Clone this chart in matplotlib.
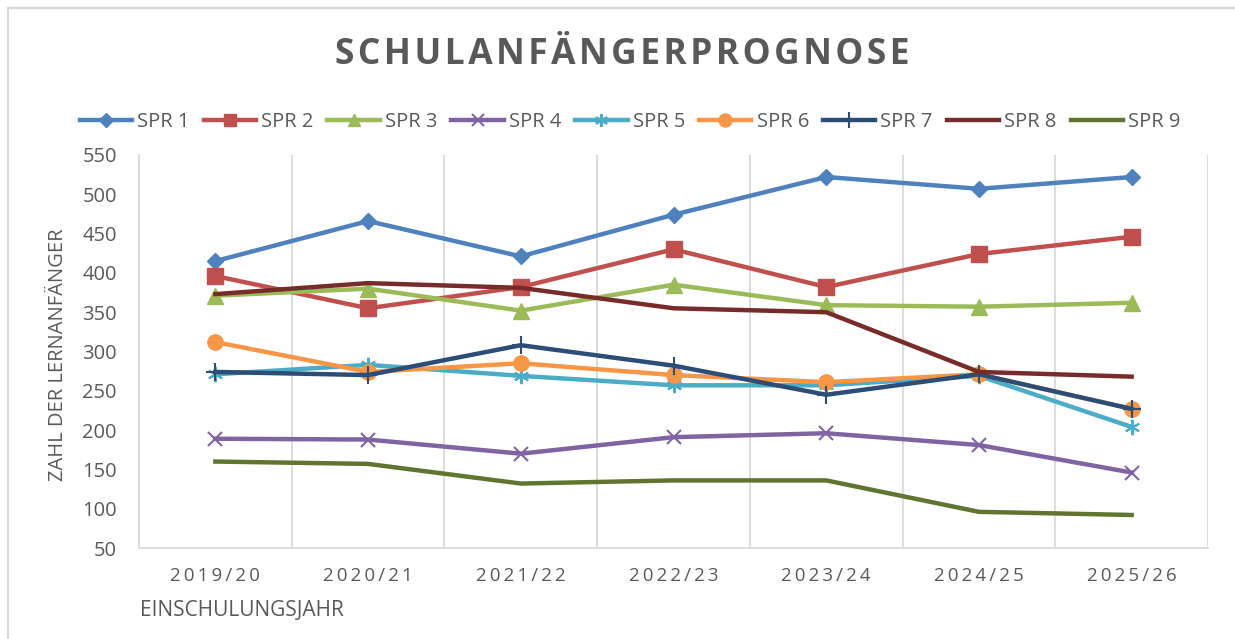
#!/usr/bin/env python3
"""Schulanfängerprognose - line chart per Schulplanungsraum (SPR)."""

import matplotlib
matplotlib.use("Agg")
import matplotlib.pyplot as plt
from matplotlib.lines import Line2D

# ------------------------
# Data
# ------------------------

years = ["2019/20", "2020/21", "2021/22", "2022/23", "2023/24", "2024/25", "2025/26"]

spr1 = [415, 466, 421, 474, 522, 507, 522]
spr2 = [396, 355, 382, 430, 382, 424, 446]
spr3 = [371, 380, 352, 385, 359, 357, 362]
spr4 = [189, 188, 170, 191, 196, 181, 146]
spr5 = [271, 283, 269, 257, 257, 269, 204]
spr6 = [312, 274, 285, 270, 261, 271, 227]
spr7 = [274, 270, 308, 282, 245, 271, 227]
spr8 = [373, 387, 381, 355, 350, 274, 268]
spr9 = [160, 157, 132, 136, 136, 96, 92]

series_names = ["SPR 1", "SPR 2", "SPR 3", "SPR 4", "SPR 5", "SPR 6", "SPR 7", "SPR 8", "SPR 9"]

# ------------------------
# Styling
# ------------------------

TEXT = "#595959"
GRID = "#D9D9D9"
FONT = ["Open Sans", "DejaVu Sans"]

styles = [
    dict(color="#4F81BD", marker="D", ms=8),
    dict(color="#C0504D", marker="s", ms=11),
    dict(color="#9BBB59", marker="^", ms=11),
    dict(color="#8064A2", marker="x", ms=10, mew=1.5),
    dict(color="#4BACC6", marker=(6, 2, 0), ms=11, mew=1.5),
    dict(color="#F79646", marker="o", ms=11),
    dict(color="#2C4D75", marker="+", ms=13, mew=1.5),
    dict(color="#772C2A", marker=None, ms=0),
    dict(color="#5F7530", marker=None, ms=0),
]


def spaced(s, sep="\u2009"):
    return sep.join(s)


fig = plt.figure(figsize=(12.35, 6.39), dpi=100)
ax = fig.add_axes([139 / 1235, 1 - 548 / 639, (1208 - 139) / 1235, (548 - 155) / 639])

x = list(range(len(years)))
all_series = [spr1, spr2, spr3, spr4, spr5, spr6, spr7, spr8, spr9]

handles = []
for name, vals, st in zip(series_names, all_series, styles):
    line, = ax.plot(
        x, vals,
        color=st["color"], linewidth=3.2,
        marker=st["marker"], markersize=st["ms"],
        markeredgewidth=st.get("mew", 1.0),
        markeredgecolor=st["color"], markerfacecolor=st["color"],
        solid_joinstyle="miter", label=name,
    )
    handles.append(line)

ax.set_xlim(-0.5, len(years) - 0.5)
ax.set_ylim(50, 550)
ax.set_yticks(range(50, 551, 50))
ax.set_xticks(x)
ax.set_xticklabels([spaced(y) for y in years])

# vertical grid between categories (Excel style)
for b in range(1, len(years) + 1):
    ax.axvline(b - 0.5, color=GRID, linewidth=1.3, zorder=0)

for side in ["top", "right"]:
    ax.spines[side].set_visible(False)
for side in ["left", "bottom"]:
    ax.spines[side].set_color(GRID)
    ax.spines[side].set_linewidth(1.3)

ax.tick_params(axis="both", length=0, colors=TEXT)
ax.tick_params(axis="y", pad=16, labelsize=14.5)
ax.tick_params(axis="x", pad=14, labelsize=13.5)
for lbl in ax.get_xticklabels() + ax.get_yticklabels():
    lbl.set_family(FONT)

fig.text(58 / 1235, 1 - 355 / 639, "ZAHL DER LERNANFÄNGER", rotation=90,
         ha="center", va="center", fontsize=14.5, color=TEXT, family=FONT)
fig.text(140 / 1235, 1 - 610 / 639, "EINSCHULUNGSJAHR",
         ha="left", va="center", fontsize=15, color=TEXT, family=FONT)

fig.text(622 / 1235, 1 - 55 / 639, spaced("SCHULANFÄNGERPROGNOSE", "\u200a"),
         ha="center", va="center", fontsize=25.5, fontweight="bold",
         color=TEXT, family=FONT)

leg = fig.legend(
    handles=handles, labels=series_names, loc="center",
    bbox_to_anchor=(630 / 1235, 1 - 122 / 639), ncol=9, frameon=False,
    handlelength=2.6, handletextpad=0.25, columnspacing=0.7,
    prop={"family": FONT, "size": 14.5},
)
for t in leg.get_texts():
    t.set_color(TEXT)
for h in leg.legend_handles:
    h.set_markersize(h.get_markersize() * 0.85)

# outer chart frame (top and left edges visible)
fig.add_artist(Line2D([8 / 1235, 1.0], [1 - 8 / 639, 1 - 8 / 639],
                      transform=fig.transFigure, color=GRID, linewidth=1.5))
fig.add_artist(Line2D([8 / 1235, 8 / 1235], [0, 1 - 8 / 639],
                      transform=fig.transFigure, color=GRID, linewidth=1.5))

fig.savefig("out.png", dpi=100)
